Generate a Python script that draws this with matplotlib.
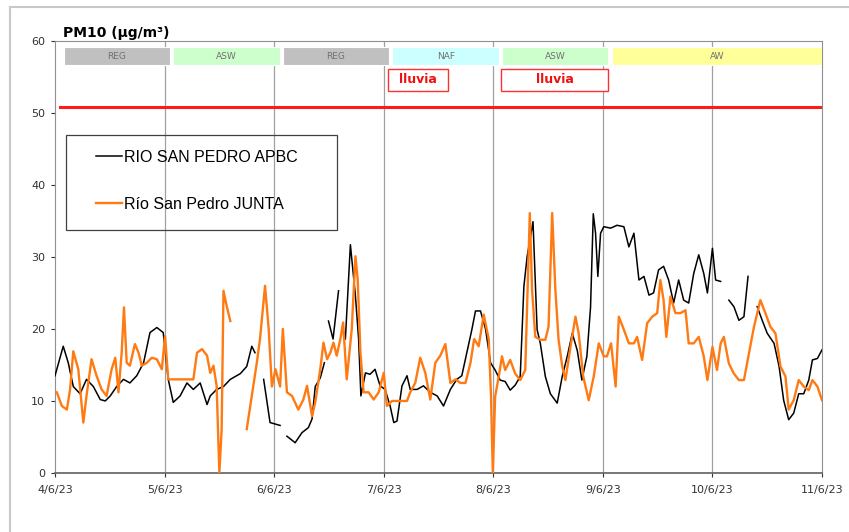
import numpy as np
import matplotlib
matplotlib.use('Agg')
import matplotlib.pyplot as plt
from matplotlib.patches import Rectangle
from matplotlib.lines import Line2D

nan = np.nan

# horas desde 4/6/23 00:00 y valores PM10 (µg/m³)
apbc_h = [0, 1.8, 2.9, 4.0, 5.5, 6.9, 8.4, 9.9, 11, 12.1, 13.5, 15, 16.4, 17.9, 19.4, 20.8, 22.3, 23.7,
          24.8, 25.9, 27.4, 28.9, 30.3, 31.8, 33.3, 34, 35.4, 36.9, 38.4, 40.6, 42, 43.1, 43.8, 44.7,
          45.7, 47.1, 49.3, 50, 50.8, 52.6, 54.1, 55.5, 56.3, 57, 58.1, 59, 59.5, 59.9, 60.9, 62.1, 62.8,
          63.6, 64.7, 65.8, 66.5, 67, 68, 69, 70.1, 71.2, 72.3, 73.4, 74.2, 74.9, 76, 77.1, 77.8, 79.3,
          80.7, 82.2, 83.7, 85.1, 86.6, 88, 89.1, 90.2, 91.3, 92.1, 93.2, 94.3, 95.4, 96.4, 97.5, 98.6,
          99.7, 100.8, 101.9, 102.7, 103.4, 104.7, 105.6, 106.3, 107.4, 108.5, 110, 111.1, 112.2, 113.3,
          114.4, 115.4, 116.5, 117.3, 117.9, 118.4, 118.9, 119.5, 120.2, 121.7, 123.1, 124.6, 125.7,
          126.8, 127.9, 129, 130.1, 131.1, 132.2, 133.3, 134.4, 135.5, 136.6, 137.7, 138.8, 139.9, 141,
          142.1, 142.9, 144, 144.7, 145.8, 146.7, 147.6, 148.7, 149.8, 150.9, 151.8, 152.8, 153.8, 154.9,
          156, 157.5, 158.6, 159.6, 160.7, 161.8, 162.9, 164, 165.1, 165.9, 167, 168]
apbc_v = [13.5, 17.6, 15.3, 12, 11, 13, 12, 10.2, 10, 10.7, 12, 13, 12.5, 13.5, 15.3, 19.5, 20.2, 19.5,
          13, 9.8, 10.7, 12.5, 11.6, 12.5, 9.5, 10.7, 11.6, 12, 13, 13.8, 14.8, 17.6, 16.7, nan,
          13, 7, 6.6, nan, 5.1, 4.2, 5.6, 6.3, 7.5, 12, 13.2, 15.3, nan, 21.1, 18.6, 25.3, nan,
          18.6, 31.7, 24.6, 18.6, 10.7, 13.9, 13.7, 14.4, 12.1, 11.6, 9.3, 7, 7.2, 12.1, 13.5, 11.6, 11.6,
          12.1, 11.2, 10.7, 9.3, 11.6, 13, 13.5, 16.7, 19.9, 22.5, 22.5, 20, 15.3, 14.3, 12.9, 12.7,
          11.5, 12.2, 13.4, 25.9, 30, 34.9, 19.9, 18, 13.4, 11, 9.7, 13.4, 16.2, 19.4,
          17, 12.9, 16.2, 23, 36, 33.3, 27.3, 33.3, 34.2, 34, 34.4, 34.2, 31.4,
          33.3, 26.8, 27.3, 24.7, 25, 28.2, 28.7, 26.8, 23.6, 26.8, 24, 23.6, 27.7, 30.3,
          27.7, 25, 31.2, 26.8, 26.6, nan, 24, 23.1, 21.2, 21.7, 27.3, nan, 23.1, 21.2,
          19.4, 18, 14.8, 10.1, 7.4, 8.3, 11, 11, 12.9, 15.7, 15.9, 17.1]

junta_h = [0.4, 1.5, 2.6, 3.3, 4, 5.1, 6.2, 6.9, 8, 9.1, 10.2, 11.3, 12.4, 13.2, 13.9, 14.6, 15.1, 15.7,
           16.4, 17.5, 18.3, 19, 20.1, 21.2, 22.3, 23.4, 24.1, 24.8, 30.3, 31.1, 32.2, 33.3, 34, 34.7,
           35.4, 36, 36.5, 36.9, 37.6, 38.4, 40, 42, 43.1, 44.2, 44.9, 46, 46.8, 47.5, 48.3, 49.3, 49.9,
           50.8, 51.9, 53.3, 54.4, 55.2, 56.3, 57, 58.1, 58.8, 59.6, 60.3, 61, 61.7, 62.5, 63.1, 63.9, 65,
           65.8, 66.3, 66.9, 67.6, 68.7, 69.8, 70.9, 72, 72.7, 73.8, 77.1, 77.8, 78.9, 80, 81.1, 82.2,
           83.3, 84.4, 85.5, 86.6, 87.7, 88.8, 89.9, 91, 91.8, 92.8, 93.9, 95, 95.5, 95.9, 96.4, 97.2,
           97.9, 98.6, 99.7, 100.8, 101.9, 103, 104, 104.5, 105.2, 106.3, 107.4, 108.1, 108.9, 109.6,
           110.3, 111.1, 111.8, 112.9, 114, 114.7, 115.7, 116.9, 118, 119.1, 120.2, 120.9, 121.8, 122.8,
           123.5, 124.6, 125.7, 126.8, 127.5, 128.6, 129.7, 130.8, 131.9, 132.6, 133.3, 133.9, 134.8,
           135.9, 137, 138.1, 138.8, 139.9, 141, 142.1, 142.9, 144, 145, 145.8, 146.5, 147.6, 148.7,
           149.8, 150.9, 152, 153.1, 154.5, 155.6, 156.7, 157.8, 158.9, 160, 160.7, 161.8, 162.9, 164,
           165.1, 165.9, 167, 168]
junta_v = [11.2, 9.3, 8.8, 11.6, 16.9, 14.4, 7, 10.7, 15.8, 13.5, 11.6, 10.7, 14.4, 16, 11.2, 16.7, 23, 15.3,
           14.9, 17.9, 16.7, 14.9, 15.3, 16, 15.8, 14.4, 19, 13, 13, 16.7, 17.2, 16.3, 13.9, 14.9,
           12.1, 0, 6.1, 25.3, 23.2, 21.1, nan, 6.1, 10.7, 15.3, 18.6, 26, 20, 12, 14.4, 12, 20,
           11.2, 10.7, 8.8, 10.2, 12.1, 7.9, 9.8, 14.4, 18.1, 15.8, 16.7, 18.1, 16.3, 18.6, 20.9, 13, 20,
           30.1, 26.9, 16.7, 11.2, 11.2, 10.2, 11.2, 13.9, 9.3, 10, 10, 11.2, 12.5, 16, 13.9, 10.2,
           15.3, 16.3, 17.9, 12.5, 13, 12.5, 12.5, 15.3, 18.6, 17.6, 22, 18.6, 10.7, 0, 10.6, 13.4,
           16.2, 14.3, 15.7, 13.8, 12.9, 14.3, 36.1, 25.4, 18.9, 18.5, 18.5, 20.3, 36.1, 25.4,
           18.5, 14.8, 12.9, 17.5, 21.7, 19.4, 13.4, 10.1, 13.4, 18, 16.2, 16.2, 18, 12,
           21.7, 19.9, 18, 18, 18.9, 15.7, 20.8, 21.7, 22.2, 26.8, 24, 18.9, 24.5,
           22.2, 22.2, 22.6, 18, 18, 18.9, 16.2, 12.9, 17.5, 14.3, 18, 18.9, 15.2, 13.8,
           12.9, 12.9, 16.6, 20.3, 24, 22.2, 20.3, 19.4, 14.8, 13.4, 8.8, 10.1, 12.9, 12,
           11.5, 12.9, 12, 10.1]

fechas = ['4/6/23', '5/6/23', '6/6/23', '7/6/23', '8/6/23', '9/6/23', '10/6/23', '11/6/23']

# episodios (dia inicio, dia fin)
episodios = ['REG', 'ASW', 'REG', 'NAF', 'ASW', 'AW']
ep_ini = [0, 1, 2, 3, 4, 5]
ep_fin = [1, 2, 3, 4, 5, 7]
ep_color = {'REG': '#c0c0c0', 'ASW': '#ccffcc', 'NAF': '#ccffff', 'AW': '#ffff99'}

lluvia_ini = [3.04, 4.07]
lluvia_fin = [3.59, 5.05]

valor_limite = 50.8

fig = plt.figure(figsize=(8.49, 5.32), dpi=100)
ax = fig.add_axes([0.0648, 0.111, 0.9034, 0.812])

# marco del grafico
fig.add_artist(Line2D([10 / 849, 10 / 849], [0, 1 - 7 / 532], color='#c8c8c8', lw=1.5))
fig.add_artist(Line2D([10 / 849, 1], [1 - 7 / 532, 1 - 7 / 532], color='#c8c8c8', lw=1.5))

for d in range(1, 7):
    ax.axvline(d, color='#a0a0a0', lw=0.9, zorder=1)

ax.axhline(valor_limite, xmin=0.007, xmax=1, color='#ff1a1a', lw=2.2, zorder=2)

x1 = np.array(apbc_h) / 24.0
x2 = np.array(junta_h) / 24.0
ax.plot(x1, apbc_v, color='black', lw=1.1, label='RIO SAN PEDRO APBC', zorder=3)
ax.plot(x2, junta_v, color='#ff7a12', lw=1.7, label='Río San Pedro JUNTA', zorder=4)

for ep, a, b in zip(episodios, ep_ini, ep_fin):
    x0 = a + 0.08
    x_fin = min(b + 0.05, 7)
    ax.add_patch(Rectangle((x0, 56.6), x_fin - x0, 2.6, facecolor=ep_color[ep],
                           edgecolor='white', lw=0.8, zorder=5))
    ax.text((x0 + x_fin) / 2, 57.9, ep, ha='center', va='center', fontsize=6.5, color='#707070', zorder=6)

for a, b in zip(lluvia_ini, lluvia_fin):
    ax.add_patch(Rectangle((a, 53.1), b - a, 3.0, facecolor='white', edgecolor='#ff3030', lw=1.0, zorder=5))
    ax.text((a + b) / 2, 54.6, 'lluvia', ha='center', va='center', fontsize=9, fontweight='bold',
            color='#ee1111', zorder=6)

ax.set_xlim(0, 7)
ax.set_ylim(0, 60)
ax.set_xticks(range(8))
ax.set_xticklabels(fechas)
ax.set_yticks(range(0, 61, 10))
ax.tick_params(axis='both', labelsize=8, colors='#333333', length=3, width=0.8, pad=4)
ax.tick_params(axis='x', pad=6)
for s in ['top', 'right', 'left']:
    ax.spines[s].set_color('#909090')
ax.spines['bottom'].set_color('#606060')
ax.spines['bottom'].set_linewidth(1.2)

ax.set_title('PM10 (µg/m³)', loc='left', fontsize=10, fontweight='bold', x=0.011, y=1.0, pad=3)

# leyenda
ax.add_patch(Rectangle((0.0143, 0.5625), 0.3533, 0.22, transform=ax.transAxes, fill=False,
                       edgecolor='#404040', lw=0.9, zorder=7))
leg = ax.legend(loc='upper left', bbox_to_anchor=(0.054, 0.748), frameon=False, borderpad=0,
                borderaxespad=0, handlelength=1.6, handletextpad=0.1, labelspacing=2.0,
                prop={'family': 'Liberation Sans', 'size': 11.5})
leg.set_zorder(8)

plt.savefig('out.png', dpi=100)
